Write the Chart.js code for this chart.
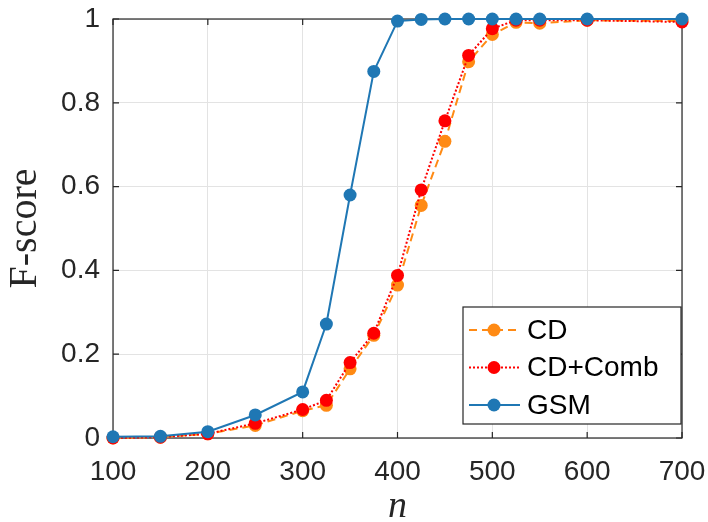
<!DOCTYPE html>
<html>
<head>
<meta charset="utf-8">
<script src="https://cdn.jsdelivr.net/npm/chart.js@4.4.1/dist/chart.umd.min.js"></script>
<style>
  html, body { margin: 0; padding: 0; background: #fff; }
  #wrap { width: 708px; height: 522px; }
</style>
</head>
<body>
<div id="wrap"><canvas id="fscore-chart" width="708" height="522"></canvas></div>
<script>
// data
const nValues = [100, 150, 200, 250, 300, 325, 350, 375, 400, 425, 450, 475, 500, 525, 550, 600, 700];
const cdScores = [0, 0.002, 0.01, 0.03, 0.065, 0.078, 0.165, 0.245, 0.365, 0.555, 0.708, 0.898, 0.963, 0.992, 0.99, 0.997, 0.995];
const cdCombScores = [0, 0.002, 0.01, 0.035, 0.068, 0.09, 0.18, 0.25, 0.388, 0.592, 0.757, 0.913, 0.977, 0.997, 0.997, 0.997, 0.993];
const gsmScores = [0.003, 0.004, 0.015, 0.055, 0.11, 0.272, 0.58, 0.875, 0.995, 0.999, 1, 1, 1, 1, 1, 1, 1];
const xTicks = [100, 200, 300, 400, 500, 600, 700];
const yTicks = [0, 0.2, 0.4, 0.6, 0.8, 1];

const seriesNames = ["CD", "CD+Comb", "GSM"];
const seriesColors = ["#ff8a14", "#ff0000", "#1f77b4"];
const seriesDash = [[8, 5], [2, 2], []];

function toPoints(values) {
    return nValues.map((n, i) => ({ x: n, y: values[i] }));
}

const sansFont = "'Liberation Sans', Arial, sans-serif";
const serifFont = "'Liberation Serif', 'Times New Roman', serif";
const tickFont = { family: sansFont, size: 28 };

// box around the axes + inward tick marks, MATLAB style
const boxPlugin = {
    id: 'box',
    beforeDatasetsDraw(chart) {
        const { ctx, chartArea: a, scales } = chart;
        ctx.save();
        ctx.strokeStyle = '#262626';
        ctx.lineWidth = 1.2;
        ctx.strokeRect(a.left, a.top, a.right - a.left, a.bottom - a.top);
        ctx.beginPath();
        xTicks.forEach(t => {
            const px = scales.x.getPixelForValue(t);
            ctx.moveTo(px, a.bottom); ctx.lineTo(px, a.bottom - 6);
            ctx.moveTo(px, a.top); ctx.lineTo(px, a.top + 6);
        });
        yTicks.forEach(t => {
            const py = scales.y.getPixelForValue(t);
            ctx.moveTo(a.left, py); ctx.lineTo(a.left + 6, py);
            ctx.moveTo(a.right, py); ctx.lineTo(a.right - 6, py);
        });
        ctx.stroke();
        ctx.restore();
    }
};

// legend drawn inside the plot, bottom right
const legendPlugin = {
    id: 'insideLegend',
    afterDraw(chart) {
        const { ctx, chartArea: a } = chart;
        const w = 218, h = 117;
        const x0 = a.right - w - 1, y0 = a.bottom - h - 14;
        ctx.save();
        ctx.fillStyle = '#fff';
        ctx.fillRect(x0, y0, w, h);
        ctx.strokeStyle = '#262626';
        ctx.lineWidth = 1.2;
        ctx.strokeRect(x0, y0, w, h);
        ctx.font = "28px " + sansFont;
        ctx.textBaseline = 'middle';
        seriesNames.forEach((name, i) => {
            const cy = y0 + 23 + i * 37.5;
            ctx.strokeStyle = seriesColors[i];
            ctx.lineWidth = 2;
            ctx.setLineDash(seriesDash[i]);
            ctx.beginPath();
            ctx.moveTo(x0 + 6, cy);
            ctx.lineTo(x0 + 57, cy);
            ctx.stroke();
            ctx.setLineDash([]);
            ctx.fillStyle = seriesColors[i];
            ctx.beginPath();
            ctx.arc(x0 + 31, cy, 6.5, 0, Math.PI * 2);
            ctx.fill();
            ctx.fillStyle = '#000';
            ctx.fillText(name, x0 + 64, cy + 1);
        });
        ctx.restore();
    }
};

const fscoreCanvas = document.getElementById('fscore-chart');

const fscoreData = {
    datasets: [2, 1, 0].map(i => ({
        label: seriesNames[i],
        data: toPoints([cdScores, cdCombScores, gsmScores][i]),
        borderColor: seriesColors[i],
        backgroundColor: seriesColors[i],
        borderDash: seriesDash[i],
        borderWidth: 2,
        pointRadius: 6.5,
        pointBorderWidth: 0,
        pointHoverRadius: 6.5,
        tension: 0,
        fill: false,
        clip: false
    }))
};

const fscoreOptions = {
    responsive: false,
    animation: false,
    layout: { padding: { top: 19, right: 26, left: 0, bottom: 0 } },
    plugins: {
        legend: { display: false },
        tooltip: { enabled: false }
    },
    scales: {
        x: {
            type: 'linear',
            min: 100,
            max: 700,
            afterBuildTicks: axis => { axis.ticks = xTicks.map(v => ({ value: v })); },
            afterFit: axis => {
                axis.height = 84;
                axis.paddingLeft = 0;
                axis.paddingRight = 0;
            },
            grid: { color: '#e3e3e3', lineWidth: 1, drawTicks: false },
            border: { display: false },
            ticks: { color: '#262626', font: tickFont, padding: 17, maxRotation: 0 },
            title: {
                display: true,
                text: 'n',
                color: '#262626',
                font: { family: serifFont, size: 38, style: 'italic', lineHeight: 0.8 },
                padding: { top: 0, bottom: 0 }
            }
        },
        y: {
            type: 'linear',
            min: 0,
            max: 1,
            afterBuildTicks: axis => { axis.ticks = yTicks.map(v => ({ value: v })); },
            afterFit: axis => {
                axis.width = 113;
                axis.paddingTop = 0;
                axis.paddingBottom = 0;
            },
            grid: { color: '#e3e3e3', lineWidth: 1, drawTicks: false },
            border: { display: false },
            ticks: {
                color: '#262626',
                font: tickFont,
                padding: 13,
                callback: v => String(v)
            },
            title: {
                display: true,
                text: 'F-score',
                color: '#262626',
                font: { family: serifFont, size: 40, lineHeight: 1 },
                padding: { top: 5, bottom: 0 }
            }
        }
    }
};

let fscoreChart = new Chart(fscoreCanvas, {
    type: 'line',
    data: fscoreData,
    options: fscoreOptions,
    plugins: [boxPlugin, legendPlugin]
});
</script>
</body>
</html>
